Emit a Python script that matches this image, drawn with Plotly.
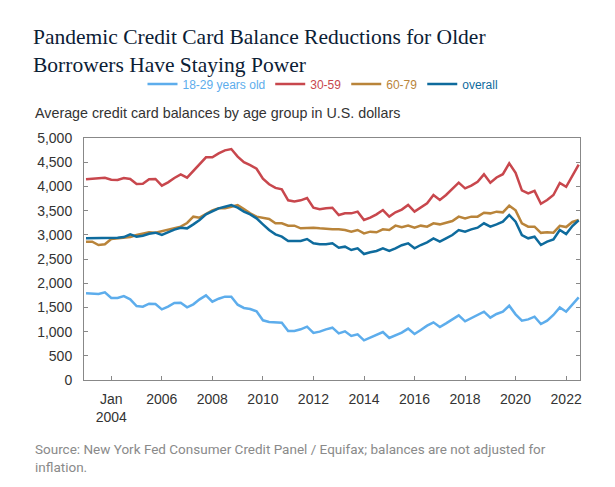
import pandas as pd
import plotly.graph_objects as go

# quarterly, 2003 Q1 .. 2022 Q3
quarters = pd.date_range("2003-01-01", periods=79, freq="QS")

age_18_29 = [1790, 1790, 1777, 1811, 1694, 1694, 1735, 1667, 1529, 1515,
             1577, 1570, 1460, 1515, 1591, 1598, 1501, 1563, 1667, 1749,
             1618, 1680, 1722, 1722, 1556, 1488, 1467, 1419, 1233, 1198,
             1191, 1185, 1012, 1012, 1047, 1102, 971, 999, 1047, 1081,
             964, 1005, 909, 943, 820, 875, 943, 992, 868, 923,
             978, 1061, 950, 1033, 1123, 1191, 1095, 1171, 1260, 1336,
             1212, 1274, 1350, 1412, 1288, 1364, 1412, 1536, 1357, 1226,
             1253, 1308, 1157, 1226, 1343, 1501, 1412, 1570, 1708]

age_30_59 = [4146, 4160, 4160, 4180, 4139, 4132, 4173, 4153, 4049, 4056,
             4146, 4153, 4015, 4084, 4173, 4249, 4180, 4318, 4456, 4600,
             4600, 4683, 4745, 4772, 4615, 4500, 4440, 4365, 4160, 4045,
             3970, 3938, 3712, 3690, 3712, 3760, 3560, 3527, 3547, 3560,
             3409, 3443, 3443, 3478, 3306, 3354, 3423, 3512, 3375, 3464,
             3520, 3616, 3478, 3560, 3650, 3822, 3719, 3822, 3960, 4077,
             3960, 4015, 4097, 4249, 4077, 4185, 4252, 4476, 4280, 3918,
             3857, 3908, 3640, 3719, 3822, 4070, 3990, 4218, 4450]

age_60_79 = [2858, 2858, 2789, 2803, 2913, 2927, 2941, 2954, 2996, 3016,
             3051, 3044, 3078, 3106, 3133, 3168, 3244, 3375, 3354, 3423,
             3505, 3547, 3547, 3581, 3616, 3533, 3443, 3375, 3354, 3326,
             3237, 3237, 3189, 3189, 3133, 3147, 3147, 3133, 3120, 3113,
             3113, 3099, 3065, 3099, 3030, 3065, 3051, 3113, 3099, 3189,
             3158, 3189, 3147, 3189, 3168, 3237, 3216, 3257, 3285, 3375,
             3340, 3375, 3375, 3457, 3443, 3478, 3464, 3602, 3505, 3237,
             3168, 3168, 3040, 3051, 3044, 3185, 3160, 3265, 3306]

overall = [2927, 2927, 2927, 2934, 2927, 2941, 2954, 3010, 2961, 2982,
           3023, 3044, 2996, 3058, 3106, 3147, 3133, 3216, 3306, 3423,
           3478, 3547, 3581, 3616, 3560, 3478, 3423, 3340, 3216, 3099,
           3010, 2961, 2872, 2872, 2872, 2913, 2824, 2803, 2803, 2824,
           2734, 2755, 2686, 2720, 2603, 2638, 2665, 2720, 2665, 2720,
           2785, 2824, 2720, 2789, 2844, 2927, 2858, 2927, 2996, 3099,
           3065, 3113, 3147, 3237, 3168, 3216, 3271, 3409, 3271, 2996,
           2927, 2961, 2789, 2858, 2906, 3099, 3016, 3182, 3300]

tick_dates = ["2004-01-01", "2006-01-01", "2008-01-01", "2010-01-01", "2012-01-01",
              "2014-01-01", "2016-01-01", "2018-01-01", "2020-01-01", "2022-01-01"]
tick_text = ["Jan<br>2004", "2006", "2008", "2010", "2012",
             "2014", "2016", "2018", "2020", "2022"]

series = [
    ("18-29 years old", age_18_29, "#5DADEC"),
    ("30-59", age_30_59, "#C8474D"),
    ("60-79", age_60_79, "#B9843A"),
    ("overall", overall, "#0E6B9D"),
]

fig = go.Figure()
for name, vals, col in series:
    fig.add_trace(go.Scatter(
        x=quarters, y=vals, mode="lines",
        name=f"<span style='color:{col}'>{name}</span>",
        line=dict(color=col, width=2.5),
    ))

fig.update_layout(
    width=615, height=487,
    margin=dict(l=76, r=43, t=130, b=115),
    plot_bgcolor="white", paper_bgcolor="white",
    font=dict(family="Liberation Sans, Arial", size=14, color="#333333"),
    title=dict(
        text="Pandemic Credit Card Balance Reductions for Older<br>Borrowers Have Staying Power",
        font=dict(family="Liberation Serif, Times New Roman", size=21.5, color="#0B2035"),
        x=25 / 615, xanchor="left", xref="container",
        y=1 - 36 / 487, yanchor="top", yref="container",
    ),
    legend=dict(
        orientation="h", xref="container", yref="container",
        x=315 / 615, xanchor="center", y=1 - 76 / 487, yanchor="middle",
        font=dict(size=12), itemwidth=30, tracegroupgap=0,
    ),
    showlegend=True,
)

fig.update_xaxes(
    range=["2002-12-03", "2022-07-20"],
    tickvals=tick_dates, ticktext=tick_text,
    ticks="inside", ticklen=4, tickcolor="#888888",
    showline=True, linecolor="#888888", linewidth=1, mirror=True,
    showgrid=False, zeroline=False, ticklabelstandoff=6,
    tickfont=dict(size=14, color="#333333"),
)
fig.update_yaxes(
    range=[0, 5000], dtick=500, tickformat=",",
    ticks="inside", ticklen=4, tickcolor="#888888",
    showline=True, linecolor="#888888", linewidth=1, mirror="ticks",
    showgrid=False, zeroline=False, ticklabelstandoff=8,
    tickfont=dict(size=14, color="#333333"),
)

# plot area spans 242 px vertically, 496 px horizontally
fig.add_annotation(
    text="Average credit card balances by age group in U.S. dollars",
    xref="paper", yref="paper", x=-51 / 496, y=(372 - 105) / 242,
    xanchor="left", yanchor="middle", showarrow=False,
    font=dict(family="Liberation Sans, Arial", size=14.3, color="#333333"),
)
fig.add_annotation(
    text="Source: New York Fed Consumer Credit Panel / Equifax; balances are not adjusted for<br>inflation.",
    xref="paper", yref="paper", x=-51 / 496, y=(380 - 458) / 242,
    xanchor="left", yanchor="middle", align="left", showarrow=False,
    font=dict(family="Roboto", size=13.5, color="#8A8A8A"),
)

fig.write_html("out.html")
